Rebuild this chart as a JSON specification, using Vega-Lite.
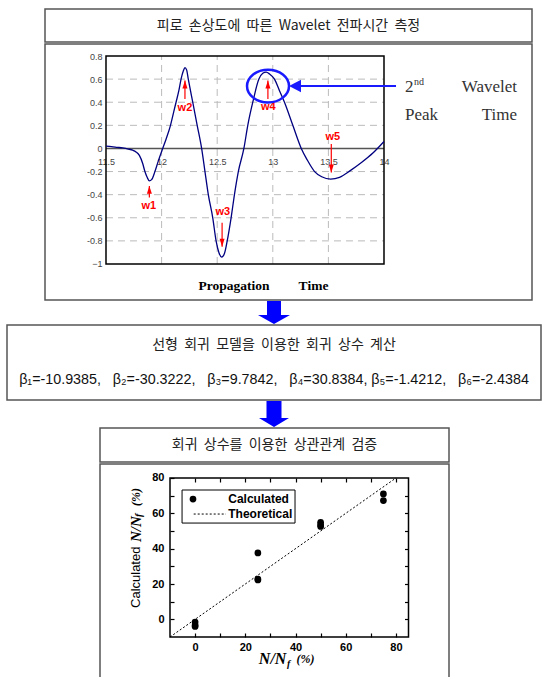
{
  "$schema": "https://vega.github.io/schema/vega-lite/v6.json",
  "background": "white",
  "padding": {"left": 0, "top": 8, "right": 0, "bottom": 0},
  "spacing": 0,
  "config": {
    "view": {"stroke": null},
    "concat": {"spacing": 0},
    "axis": {"grid": false, "title": null},
    "font": "Liberation Sans"
  },
  "datasets": {
    "wave": [
      {"t": 11.5, "v": 0.02}, {"t": 11.55, "v": 0.016}, {"t": 11.6, "v": 0.01}, {"t": 11.65, "v": 0.004},
      {"t": 11.7, "v": -0.005}, {"t": 11.74, "v": -0.015}, {"t": 11.77, "v": -0.03}, {"t": 11.8, "v": -0.06},
      {"t": 11.83, "v": -0.13}, {"t": 11.85, "v": -0.2}, {"t": 11.87, "v": -0.25}, {"t": 11.89, "v": -0.28},
      {"t": 11.91, "v": -0.27}, {"t": 11.94, "v": -0.2}, {"t": 11.97, "v": -0.11}, {"t": 12.01, "v": 0.0},
      {"t": 12.04, "v": 0.08}, {"t": 12.08, "v": 0.2}, {"t": 12.11, "v": 0.32}, {"t": 12.13, "v": 0.4},
      {"t": 12.155, "v": 0.5}, {"t": 12.175, "v": 0.6}, {"t": 12.195, "v": 0.67}, {"t": 12.21, "v": 0.7},
      {"t": 12.225, "v": 0.68}, {"t": 12.24, "v": 0.6}, {"t": 12.28, "v": 0.4}, {"t": 12.32, "v": 0.2},
      {"t": 12.36, "v": 0.0}, {"t": 12.39, "v": -0.2}, {"t": 12.42, "v": -0.4}, {"t": 12.46, "v": -0.6},
      {"t": 12.49, "v": -0.8}, {"t": 12.515, "v": -0.9}, {"t": 12.54, "v": -0.94}, {"t": 12.565, "v": -0.91},
      {"t": 12.59, "v": -0.8}, {"t": 12.625, "v": -0.6}, {"t": 12.655, "v": -0.4}, {"t": 12.69, "v": -0.2},
      {"t": 12.74, "v": 0.0}, {"t": 12.775, "v": 0.2}, {"t": 12.82, "v": 0.4}, {"t": 12.875, "v": 0.6},
      {"t": 12.91, "v": 0.65}, {"t": 12.94, "v": 0.66}, {"t": 12.97, "v": 0.645}, {"t": 13.015, "v": 0.6},
      {"t": 13.06, "v": 0.5}, {"t": 13.105, "v": 0.4}, {"t": 13.18, "v": 0.2}, {"t": 13.256, "v": 0.0},
      {"t": 13.31, "v": -0.1}, {"t": 13.376, "v": -0.2}, {"t": 13.44, "v": -0.245}, {"t": 13.52, "v": -0.265},
      {"t": 13.6, "v": -0.25}, {"t": 13.7, "v": -0.19}, {"t": 13.8, "v": -0.12}, {"t": 13.9, "v": -0.04},
      {"t": 14.0, "v": 0.06}
    ],
    "hgrid": [{"g": 0.6}, {"g": 0.4}, {"g": 0.2}, {"g": -0.2}, {"g": -0.4}, {"g": -0.6}, {"g": -0.8}],
    "vgrid": [{"g": 12}, {"g": 12.5}, {"g": 13}, {"g": 13.5}],
    "peaks": [
      {"w": "w1", "x": 11.89, "tail": -0.425, "tip": -0.324, "dir": "up", "lx": 11.885, "ly": -0.5},
      {"w": "w2", "x": 12.21, "tail": 0.428, "tip": 0.587, "dir": "up", "lx": 12.21, "ly": 0.35},
      {"w": "w3", "x": 12.544, "tail": -0.642, "tip": -0.85, "dir": "down", "lx": 12.55, "ly": -0.55},
      {"w": "w4", "x": 12.956, "tail": 0.428, "tip": 0.587, "dir": "up", "lx": 12.96, "ly": 0.36},
      {"w": "w5", "x": 13.526, "tail": 0.038, "tip": -0.208, "dir": "down", "lx": 13.54, "ly": 0.095}
    ],
    "calc": [
      {"n": 0, "c": -1.5}, {"n": 0, "c": -3.2}, {"n": 0, "c": -4.0},
      {"n": 25, "c": 37.6}, {"n": 25, "c": 22.3}, {"n": 25, "c": 22.8},
      {"n": 50, "c": 54.9}, {"n": 50, "c": 53.5}, {"n": 50, "c": 52.6},
      {"n": 75, "c": 71.0}, {"n": 75, "c": 67.2}
    ]
  },
  "vconcat": [
    {
      "spacing": 0,
      "hconcat": [
        {"width": 44, "height": 1, "data": {"values": []}, "mark": "point", "encoding": {}},
        {
          "width": 487, "height": 33,
          "view": {"stroke": "#555", "strokeWidth": 1.5},
          "data": {"values": [{"t": "피로\u00a0 손상도에\u00a0 따른\u00a0 Wavelet\u00a0 전파시간\u00a0 측정"}]},
          "mark": {"type": "text", "font": "Noto Sans CJK KR", "fontSize": 14, "letterSpacing": 1, "color": "#222", "align": "center", "baseline": "middle"},
          "encoding": {"text": {"field": "t", "type": "nominal"}}
        }
      ]
    },
    {
      "spacing": 0,
      "hconcat": [
        {"width": 44, "height": 1, "data": {"values": []}, "mark": "point", "encoding": {}},
        {
          "width": 487, "height": 256,
          "view": {"stroke": "#555", "strokeWidth": 1.5},
          "resolve": {"axis": {"x": "independent", "y": "independent"}},
          "layer": [
            {
              "data": {"name": "hgrid"},
              "mark": {"type": "rule", "stroke": "#bbbbbb", "strokeWidth": 1, "strokeDash": [7, 5]},
              "encoding": {
                "y": {"field": "g", "type": "quantitative", "scale": {"domain": [-1.31154, 0.90385], "nice": false, "zero": false}, "axis": null},
                "x": {"datum": 11.5, "type": "quantitative", "scale": {"domain": [10.95144, 15.33094], "nice": false, "zero": false}, "axis": null},
                "x2": {"datum": 14}
              }
            },
            {
              "data": {"name": "vgrid"},
              "mark": {"type": "rule", "stroke": "#bbbbbb", "strokeWidth": 1, "strokeDash": [7, 5]},
              "encoding": {
                "x": {"field": "g", "type": "quantitative", "scale": {"domain": [10.95144, 15.33094], "nice": false, "zero": false}, "axis": null},
                "y": {"datum": -1, "type": "quantitative", "scale": {"domain": [-1.31154, 0.90385], "nice": false, "zero": false}, "axis": null},
                "y2": {"datum": 0.8}
              }
            },
            {
              "data": {"values": [{}]},
              "mark": {"type": "rule", "stroke": "#555555", "strokeWidth": 1.5},
              "encoding": {
                "y": {"datum": 0, "type": "quantitative", "scale": {"domain": [-1.31154, 0.90385], "nice": false, "zero": false}, "axis": null},
                "x": {"datum": 11.5, "type": "quantitative", "scale": {"domain": [10.95144, 15.33094], "nice": false, "zero": false}, "axis": null},
                "x2": {"datum": 14}
              }
            },
            {
              "data": {"values": [{}]},
              "mark": {"type": "rect", "fill": "transparent", "stroke": "black", "strokeWidth": 1.5},
              "encoding": {
                "x": {"datum": 11.5, "type": "quantitative", "scale": {"domain": [10.95144, 15.33094], "nice": false, "zero": false},
                  "axis": {"orient": "bottom", "offset": -151.5, "values": [11.5, 12, 12.5, 13, 13.5, 14], "labelExpr": "datum.value + ''", "domain": false, "ticks": false, "labelPadding": 9, "labelFontSize": 9, "labelColor": "#444", "labelFont": "Liberation Sans", "labelFlush": false, "labelOverlap": false, "grid": false, "title": null}},
                "x2": {"datum": 14},
                "y": {"datum": -1, "type": "quantitative", "scale": {"domain": [-1.31154, 0.90385], "nice": false, "zero": false},
                  "axis": {"orient": "left", "offset": -61, "values": [-1, -0.8, -0.6, -0.4, -0.2, 0, 0.2, 0.4, 0.6, 0.8], "labelExpr": "datum.value == 0 ? '0' : (datum.value == -1 ? '−1' : replace(format(datum.value, '.1f'), '−', '-'))", "domain": false, "ticks": false, "labelPadding": 4, "labelFontSize": 9, "labelColor": "#444", "labelFont": "Liberation Sans", "labelOverlap": false, "grid": false, "title": null}},
                "y2": {"datum": 0.8}
              }
            },
            {
              "data": {"name": "wave"},
              "mark": {"type": "line", "color": "#000080", "strokeWidth": 1.3, "interpolate": "monotone"},
              "encoding": {
                "x": {"field": "t", "type": "quantitative", "scale": {"domain": [10.95144, 15.33094], "nice": false, "zero": false}, "axis": null},
                "y": {"field": "v", "type": "quantitative", "scale": {"domain": [-1.31154, 0.90385], "nice": false, "zero": false}, "axis": null}
              }
            },
            {
              "data": {"name": "peaks"},
              "mark": {"type": "rule", "stroke": "#ff0000", "strokeWidth": 1.2},
              "encoding": {
                "x": {"field": "x", "type": "quantitative", "scale": {"domain": [10.95144, 15.33094], "nice": false, "zero": false}, "axis": null},
                "y": {"field": "tail", "type": "quantitative", "scale": {"domain": [-1.31154, 0.90385], "nice": false, "zero": false}, "axis": null},
                "y2": {"field": "tip"}
              }
            },
            {
              "data": {"name": "peaks"},
              "transform": [{"filter": "datum.dir == 'up'"}],
              "mark": {"type": "point", "shape": "M 0 0 L 0.6 1.9 L -0.6 1.9 Z", "size": 70, "filled": true, "color": "#ff0000", "strokeWidth": 0, "opacity": 1},
              "encoding": {
                "x": {"field": "x", "type": "quantitative", "scale": {"domain": [10.95144, 15.33094], "nice": false, "zero": false}, "axis": null},
                "y": {"field": "tip", "type": "quantitative", "scale": {"domain": [-1.31154, 0.90385], "nice": false, "zero": false}, "axis": null}
              }
            },
            {
              "data": {"name": "peaks"},
              "transform": [{"filter": "datum.dir == 'down'"}],
              "mark": {"type": "point", "shape": "M 0 0 L 0.6 -1.9 L -0.6 -1.9 Z", "size": 70, "filled": true, "color": "#ff0000", "strokeWidth": 0, "opacity": 1},
              "encoding": {
                "x": {"field": "x", "type": "quantitative", "scale": {"domain": [10.95144, 15.33094], "nice": false, "zero": false}, "axis": null},
                "y": {"field": "tip", "type": "quantitative", "scale": {"domain": [-1.31154, 0.90385], "nice": false, "zero": false}, "axis": null}
              }
            },
            {
              "data": {"name": "peaks"},
              "mark": {"type": "text", "color": "#ff0000", "font": "Liberation Sans", "fontWeight": "bold", "fontSize": 11, "align": "center", "baseline": "middle"},
              "encoding": {
                "x": {"field": "lx", "type": "quantitative", "scale": {"domain": [10.95144, 15.33094], "nice": false, "zero": false}, "axis": null},
                "y": {"field": "ly", "type": "quantitative", "scale": {"domain": [-1.31154, 0.90385], "nice": false, "zero": false}, "axis": null},
                "text": {"field": "w", "type": "nominal"}
              }
            },
            {
              "data": {"values": [{"x": 12.957, "y": 0.54}]},
              "mark": {"type": "point", "shape": "M -1 0 A 1 0.78 0 1 0 1 0 A 1 0.78 0 1 0 -1 0 Z", "size": 1764, "filled": false, "stroke": "#1a1aff", "strokeWidth": 2.5, "opacity": 1},
              "encoding": {
                "x": {"field": "x", "type": "quantitative", "scale": {"domain": [10.95144, 15.33094], "nice": false, "zero": false}, "axis": null},
                "y": {"field": "y", "type": "quantitative", "scale": {"domain": [-1.31154, 0.90385], "nice": false, "zero": false}, "axis": null}
              }
            },
            {
              "data": {"values": [{"x1": 13.25, "x2": 14.108, "y": 0.54}]},
              "mark": {"type": "rule", "stroke": "#1a1aff", "strokeWidth": 2},
              "encoding": {
                "x": {"field": "x1", "type": "quantitative", "scale": {"domain": [10.95144, 15.33094], "nice": false, "zero": false}, "axis": null},
                "x2": {"field": "x2"},
                "y": {"field": "y", "type": "quantitative", "scale": {"domain": [-1.31154, 0.90385], "nice": false, "zero": false}, "axis": null}
              }
            },
            {
              "data": {"values": [{"x": 13.146, "y": 0.54}]},
              "mark": {"type": "point", "shape": "M 0 0 L 1.9 -1 L 1.9 1 Z", "size": 159, "filled": true, "color": "#1a1aff", "strokeWidth": 0, "opacity": 1},
              "encoding": {
                "x": {"field": "x", "type": "quantitative", "scale": {"domain": [10.95144, 15.33094], "nice": false, "zero": false}, "axis": null},
                "y": {"field": "y", "type": "quantitative", "scale": {"domain": [-1.31154, 0.90385], "nice": false, "zero": false}, "axis": null}
              }
            },
            {
              "data": {"values": [{"x": 14.189, "y": 0.532, "t": "2"}, {"x": 14.189, "y": 0.289, "t": "Peak"}]},
              "mark": {"type": "text", "align": "left", "baseline": "middle", "font": "Liberation Serif", "fontSize": 17, "color": "#333"},
              "encoding": {
                "x": {"field": "x", "type": "quantitative", "scale": {"domain": [10.95144, 15.33094], "nice": false, "zero": false}, "axis": null},
                "y": {"field": "y", "type": "quantitative", "scale": {"domain": [-1.31154, 0.90385], "nice": false, "zero": false}, "axis": null},
                "text": {"field": "t", "type": "nominal"}
              }
            },
            {
              "data": {"values": [{"x": 14.27, "y": 0.578, "t": "nd"}]},
              "mark": {"type": "text", "align": "left", "baseline": "middle", "font": "Liberation Serif", "fontSize": 10, "color": "#333"},
              "encoding": {
                "x": {"field": "x", "type": "quantitative", "scale": {"domain": [10.95144, 15.33094], "nice": false, "zero": false}, "axis": null},
                "y": {"field": "y", "type": "quantitative", "scale": {"domain": [-1.31154, 0.90385], "nice": false, "zero": false}, "axis": null},
                "text": {"field": "t", "type": "nominal"}
              }
            },
            {
              "data": {"values": [{"x": 15.196, "y": 0.532, "t": "Wavelet"}, {"x": 15.196, "y": 0.289, "t": "Time"}]},
              "mark": {"type": "text", "align": "right", "baseline": "middle", "font": "Liberation Serif", "fontSize": 17, "color": "#333"},
              "encoding": {
                "x": {"field": "x", "type": "quantitative", "scale": {"domain": [10.95144, 15.33094], "nice": false, "zero": false}, "axis": null},
                "y": {"field": "y", "type": "quantitative", "scale": {"domain": [-1.31154, 0.90385], "nice": false, "zero": false}, "axis": null},
                "text": {"field": "t", "type": "nominal"}
              }
            },
            {
              "data": {"values": [{"x": 12.651, "y": -1.19, "t": "Propagation"}, {"x": 13.366, "y": -1.19, "t": "Time"}]},
              "mark": {"type": "text", "align": "center", "baseline": "middle", "font": "Liberation Serif", "fontWeight": "bold", "fontSize": 13.5, "color": "black"},
              "encoding": {
                "x": {"field": "x", "type": "quantitative", "scale": {"domain": [10.95144, 15.33094], "nice": false, "zero": false}, "axis": null},
                "y": {"field": "y", "type": "quantitative", "scale": {"domain": [-1.31154, 0.90385], "nice": false, "zero": false}, "axis": null},
                "text": {"field": "t", "type": "nominal"}
              }
            }
          ]
        }
      ]
    },
    {
      "width": 548, "height": 23,
      "data": {"values": [{"a": 1}]},
      "mark": {"type": "point", "shape": "M -0.609 -1 L 0.609 -1 L 0.609 0.217 L 1.391 0.217 L 0 1 L -1.391 0.217 L -0.609 0.217 Z", "size": 529, "filled": true, "fill": "#0000ff", "stroke": null, "strokeWidth": 0, "opacity": 1},
      "encoding": {}
    },
    {
      "spacing": 0,
      "hconcat": [
        {"width": 6, "height": 1, "data": {"values": []}, "mark": "point", "encoding": {}},
        {
          "width": 534, "height": 75,
          "view": {"stroke": "#555", "strokeWidth": 1.5},
          "data": {"values": [
            {"r": "a", "t": "선형\u00a0 회귀\u00a0 모델을\u00a0 이용한\u00a0 회귀\u00a0 상수\u00a0 계산"},
            {"r": "b", "t": "β₁=-10.9385,\u00a0\u00a0 β₂=-30.3222,\u00a0\u00a0 β₃=9.7842,\u00a0\u00a0 β₄=30.8384, β₅=-1.4212,\u00a0\u00a0 β₆=-2.4384"}
          ]},
          "layer": [
            {
              "transform": [{"filter": "datum.r == 'a'"}],
              "mark": {"type": "text", "font": "Noto Sans CJK KR", "fontSize": 14, "letterSpacing": 1, "color": "#222", "align": "center", "baseline": "middle"},
              "encoding": {
                "y": {"field": "r", "type": "nominal", "scale": {"type": "point", "domain": ["a", "b"], "padding": 0.571}, "axis": null},
                "text": {"field": "t", "type": "nominal"}
              }
            },
            {
              "transform": [{"filter": "datum.r == 'b'"}],
              "mark": {"type": "text", "font": "Liberation Sans", "fontSize": 14.3, "color": "#111", "align": "center", "baseline": "middle"},
              "encoding": {
                "y": {"field": "r", "type": "nominal", "scale": {"type": "point", "domain": ["a", "b"], "padding": 0.571}, "axis": null},
                "text": {"field": "t", "type": "nominal"}
              }
            }
          ]
        }
      ]
    },
    {
      "width": 548, "height": 26,
      "data": {"values": [{"a": 1}]},
      "mark": {"type": "point", "shape": "M -0.577 -1 L 0.577 -1 L 0.577 0.308 L 1.154 0.308 L 0 1 L -1.154 0.308 L -0.577 0.308 Z", "size": 676, "filled": true, "fill": "#0000ff", "stroke": null, "strokeWidth": 0, "opacity": 1},
      "encoding": {}
    },
    {
      "spacing": 0,
      "hconcat": [
        {"width": 99, "height": 1, "data": {"values": []}, "mark": "point", "encoding": {}},
        {
          "width": 349, "height": 34,
          "view": {"stroke": "#555", "strokeWidth": 1.5},
          "data": {"values": [{"t": "회귀\u00a0 상수를\u00a0 이용한\u00a0 상관관계\u00a0 검증"}]},
          "mark": {"type": "text", "font": "Noto Sans CJK KR", "fontSize": 14, "letterSpacing": 1, "color": "#222", "align": "center", "baseline": "middle"},
          "encoding": {"text": {"field": "t", "type": "nominal"}}
        }
      ]
    },
    {
      "spacing": 0,
      "hconcat": [
        {"width": 99, "height": 1, "data": {"values": []}, "mark": "point", "encoding": {}},
        {
          "width": 349, "height": 219,
          "view": {"stroke": "#555", "strokeWidth": 1.5},
          "resolve": {"axis": {"x": "independent", "y": "independent"}},
          "layer": [
            {
              "data": {"values": [{}]},
              "mark": {"type": "rect", "fill": "transparent", "stroke": "black", "strokeWidth": 1.5},
              "encoding": {
                "x": {"datum": -10, "type": "quantitative", "scale": {"domain": [-37.8826, 101.1319], "nice": false, "zero": false},
                  "axis": {"orient": "bottom", "offset": -46, "values": [0, 10, 20, 30, 40, 50, 60, 70, 80], "labelExpr": "datum.value % 20 === 0 ? datum.label : ''", "domain": false, "tickSize": -4, "tickColor": "black", "tickWidth": 1.2, "labelPadding": 8, "labelFont": "Liberation Sans", "labelFontWeight": "bold", "labelFontSize": 11, "labelColor": "black", "labelFlush": false, "labelOverlap": false, "grid": false, "title": null}},
                "x2": {"datum": 85},
                "y": {"datum": -10, "type": "quantitative", "scale": {"domain": [-36.0377, 87.9245], "nice": false, "zero": false},
                  "axis": {"orient": "left", "offset": -70, "values": [0, 10, 20, 30, 40, 50, 60, 70, 80], "labelExpr": "datum.value % 20 === 0 ? datum.label : ''", "domain": false, "tickSize": -4, "tickColor": "black", "tickWidth": 1.2, "labelPadding": 10, "labelFont": "Liberation Sans", "labelFontWeight": "bold", "labelFontSize": 11, "labelColor": "black", "labelOverlap": false, "grid": false, "title": null}},
                "y2": {"datum": 80}
              }
            },
            {
              "data": {"values": [{}]},
              "mark": {"type": "rule", "stroke": "black", "strokeWidth": 1, "strokeDash": [2, 2]},
              "encoding": {
                "x": {"datum": -10, "type": "quantitative", "scale": {"domain": [-37.8826, 101.1319], "nice": false, "zero": false},
                  "axis": {"orient": "top", "offset": -14, "values": [0, 10, 20, 30, 40, 50, 60, 70, 80], "labels": false, "domain": false, "tickSize": -4, "tickColor": "black", "tickWidth": 1.2, "grid": false, "title": null}},
                "x2": {"datum": 80},
                "y": {"datum": -10, "type": "quantitative", "scale": {"domain": [-36.0377, 87.9245], "nice": false, "zero": false},
                  "axis": {"orient": "right", "offset": -40.5, "values": [0, 10, 20, 30, 40, 50, 60, 70], "labels": false, "domain": false, "tickSize": -4, "tickColor": "black", "tickWidth": 1.2, "grid": false, "title": null}},
                "y2": {"datum": 80}
              }
            },
            {
              "data": {"name": "calc"},
              "mark": {"type": "point", "filled": true, "color": "black", "size": 45, "opacity": 1},
              "encoding": {
                "x": {"field": "n", "type": "quantitative", "scale": {"domain": [-37.8826, 101.1319], "nice": false, "zero": false}, "axis": null},
                "y": {"field": "c", "type": "quantitative", "scale": {"domain": [-36.0377, 87.9245], "nice": false, "zero": false}, "axis": null}
              }
            },
            {
              "data": {"values": [{}]},
              "mark": {"type": "rect", "fill": "white", "stroke": "black", "strokeWidth": 1},
              "encoding": {
                "x": {"datum": -5.2, "type": "quantitative", "scale": {"domain": [-37.8826, 101.1319], "nice": false, "zero": false}, "axis": null},
                "x2": {"datum": 39.8},
                "y": {"datum": 54.5, "type": "quantitative", "scale": {"domain": [-36.0377, 87.9245], "nice": false, "zero": false}, "axis": null},
                "y2": {"datum": 73.2}
              }
            },
            {
              "data": {"values": [{"x": -0.84, "y": 68.1}]},
              "mark": {"type": "point", "filled": true, "color": "black", "size": 45, "opacity": 1},
              "encoding": {
                "x": {"field": "x", "type": "quantitative", "scale": {"domain": [-37.8826, 101.1319], "nice": false, "zero": false}, "axis": null},
                "y": {"field": "y", "type": "quantitative", "scale": {"domain": [-36.0377, 87.9245], "nice": false, "zero": false}, "axis": null}
              }
            },
            {
              "data": {"values": [{"x1": -0.56, "x2": 12.3, "y": 59.6}]},
              "mark": {"type": "rule", "stroke": "black", "strokeWidth": 1, "strokeDash": [2, 2]},
              "encoding": {
                "x": {"field": "x1", "type": "quantitative", "scale": {"domain": [-37.8826, 101.1319], "nice": false, "zero": false}, "axis": null},
                "x2": {"field": "x2"},
                "y": {"field": "y", "type": "quantitative", "scale": {"domain": [-36.0377, 87.9245], "nice": false, "zero": false}, "axis": null}
              }
            },
            {
              "data": {"values": [{"x": 13.2, "y": 68.1, "t": "Calculated"}, {"x": 13.2, "y": 59.6, "t": "Theoretical"}]},
              "mark": {"type": "text", "align": "left", "baseline": "middle", "font": "Liberation Sans", "fontWeight": "bold", "fontSize": 12, "color": "black"},
              "encoding": {
                "x": {"field": "x", "type": "quantitative", "scale": {"domain": [-37.8826, 101.1319], "nice": false, "zero": false}, "axis": null},
                "y": {"field": "y", "type": "quantitative", "scale": {"domain": [-36.0377, 87.9245], "nice": false, "zero": false}, "axis": null},
                "text": {"field": "t", "type": "nominal"}
              }
            },
            {
              "data": {"values": [{"x": 25.4, "y": -22.5, "t": "N/N"}]},
              "mark": {"type": "text", "align": "left", "baseline": "middle", "font": "Liberation Serif", "fontWeight": "bold", "fontStyle": "italic", "fontSize": 16, "color": "black"},
              "encoding": {
                "x": {"field": "x", "type": "quantitative", "scale": {"domain": [-37.8826, 101.1319], "nice": false, "zero": false}, "axis": null},
                "y": {"field": "y", "type": "quantitative", "scale": {"domain": [-36.0377, 87.9245], "nice": false, "zero": false}, "axis": null},
                "text": {"field": "t", "type": "nominal"}
              }
            },
            {
              "data": {"values": [{"x": 36.6, "y": -25.2, "t": "f"}]},
              "mark": {"type": "text", "align": "left", "baseline": "middle", "font": "Liberation Serif", "fontWeight": "bold", "fontStyle": "italic", "fontSize": 10, "color": "black"},
              "encoding": {
                "x": {"field": "x", "type": "quantitative", "scale": {"domain": [-37.8826, 101.1319], "nice": false, "zero": false}, "axis": null},
                "y": {"field": "y", "type": "quantitative", "scale": {"domain": [-36.0377, 87.9245], "nice": false, "zero": false}, "axis": null},
                "text": {"field": "t", "type": "nominal"}
              }
            },
            {
              "data": {"values": [{"x": 40.4, "y": -22.5, "t": "(%)"}]},
              "mark": {"type": "text", "align": "left", "baseline": "middle", "font": "Liberation Serif", "fontWeight": "bold", "fontStyle": "italic", "fontSize": 12, "color": "black"},
              "encoding": {
                "x": {"field": "x", "type": "quantitative", "scale": {"domain": [-37.8826, 101.1319], "nice": false, "zero": false}, "axis": null},
                "y": {"field": "y", "type": "quantitative", "scale": {"domain": [-36.0377, 87.9245], "nice": false, "zero": false}, "axis": null},
                "text": {"field": "t", "type": "nominal"}
              }
            },
            {
              "data": {"values": [{"x": -23.54, "y": 6.42, "t": "Calculated"}]},
              "mark": {"type": "text", "align": "left", "baseline": "middle", "angle": 270, "font": "Liberation Sans", "fontSize": 13, "color": "black"},
              "encoding": {
                "x": {"field": "x", "type": "quantitative", "scale": {"domain": [-37.8826, 101.1319], "nice": false, "zero": false}, "axis": null},
                "y": {"field": "y", "type": "quantitative", "scale": {"domain": [-36.0377, 87.9245], "nice": false, "zero": false}, "axis": null},
                "text": {"field": "t", "type": "nominal"}
              }
            },
            {
              "data": {"values": [{"x": -23.54, "y": 43.77, "t": "N/N"}]},
              "mark": {"type": "text", "align": "left", "baseline": "middle", "angle": 270, "font": "Liberation Serif", "fontWeight": "bold", "fontStyle": "italic", "fontSize": 15, "color": "black"},
              "encoding": {
                "x": {"field": "x", "type": "quantitative", "scale": {"domain": [-37.8826, 101.1319], "nice": false, "zero": false}, "axis": null},
                "y": {"field": "y", "type": "quantitative", "scale": {"domain": [-36.0377, 87.9245], "nice": false, "zero": false}, "axis": null},
                "text": {"field": "t", "type": "nominal"}
              }
            },
            {
              "data": {"values": [{"x": -22.3, "y": 57.9, "t": "f"}]},
              "mark": {"type": "text", "align": "left", "baseline": "middle", "angle": 270, "font": "Liberation Serif", "fontWeight": "bold", "fontStyle": "italic", "fontSize": 10, "color": "black"},
              "encoding": {
                "x": {"field": "x", "type": "quantitative", "scale": {"domain": [-37.8826, 101.1319], "nice": false, "zero": false}, "axis": null},
                "y": {"field": "y", "type": "quantitative", "scale": {"domain": [-36.0377, 87.9245], "nice": false, "zero": false}, "axis": null},
                "text": {"field": "t", "type": "nominal"}
              }
            },
            {
              "data": {"values": [{"x": -23.54, "y": 64.15, "t": "(%)"}]},
              "mark": {"type": "text", "align": "left", "baseline": "middle", "angle": 270, "font": "Liberation Serif", "fontWeight": "bold", "fontStyle": "italic", "fontSize": 12, "color": "black"},
              "encoding": {
                "x": {"field": "x", "type": "quantitative", "scale": {"domain": [-37.8826, 101.1319], "nice": false, "zero": false}, "axis": null},
                "y": {"field": "y", "type": "quantitative", "scale": {"domain": [-36.0377, 87.9245], "nice": false, "zero": false}, "axis": null},
                "text": {"field": "t", "type": "nominal"}
              }
            }
          ]
        }
      ]
    }
  ]
}
